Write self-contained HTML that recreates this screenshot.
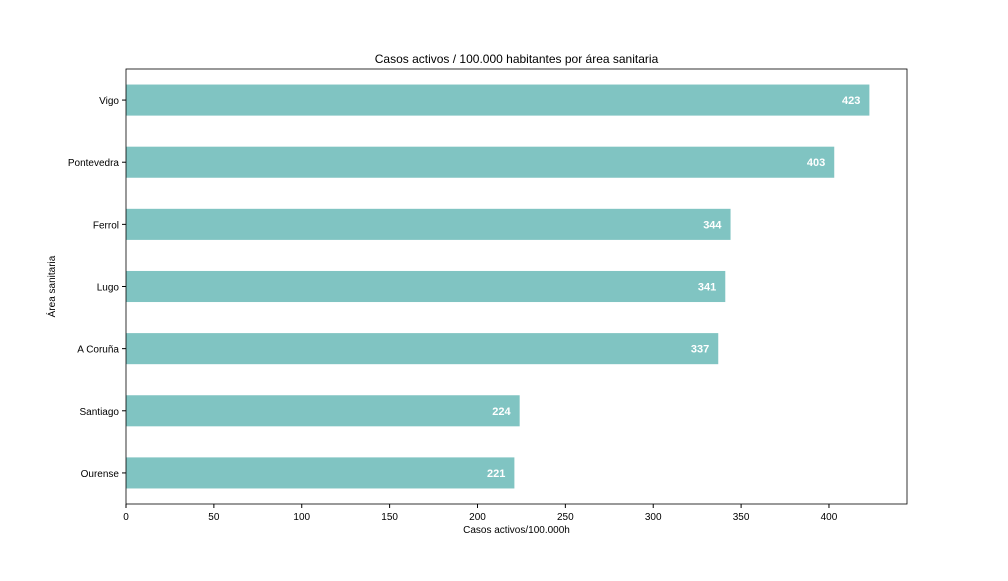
<!DOCTYPE html>
<html><head><meta charset="utf-8"><style>
body{margin:0;background:#fff;}
svg text{font-family:"Liberation Sans","DejaVu Sans",sans-serif;}
</style></head><body>
<svg id="chart" width="1008" height="576"></svg>
<script>
const categories=["Vigo","Pontevedra","Ferrol","Lugo","A Coruña","Santiago","Ourense"];
const values=[423,403,344,341,337,224,221];
const xTicks=[0,50,100,150,200,250,300,350,400];
const NS="http://www.w3.org/2000/svg";
const svg=document.getElementById('chart');
const L=126,R=907,T=69,B=504,xMax=444.4;
const x=v=>L+(v/xMax)*(R-L);
const band=(B-T)/categories.length;
const y=i=>T+band*(i+0.5);
function mk(tag,attrs,txt){const e=document.createElementNS(NS,tag);for(const k in attrs)e.setAttribute(k,attrs[k]);if(txt!==undefined)e.textContent=txt;svg.appendChild(e);return e;}
categories.forEach((c,i)=>{
  const r=mk('rect',{x:L,y:y(i)-band*0.25,width:x(values[i])-L,height:band*0.5,fill:'#80c4c2'});
  
  
  const v=mk('text',{x:x(values[i])-9,y:y(i)+4,'text-anchor':'end','font-size':11,'font-weight':'bold',fill:'#fff'},values[i]);
  
  
  mk('line',{x1:L-4,x2:L,y1:y(i),y2:y(i),stroke:'#000'});
  const t=mk('text',{x:L-7,y:y(i)+4,'text-anchor':'end','font-size':10},c);
  
  
});
xTicks.forEach(v=>{
  mk('line',{x1:x(v),x2:x(v),y1:B,y2:B+4,stroke:'#000'});
  const t=mk('text',{x:x(v),y:B+16,'text-anchor':'middle','font-size':10},v);
  
  
});
const f=mk('rect',{x:L,y:T,width:R-L,height:B-T,fill:'none',stroke:'#000','stroke-width':0.8});


const ti=mk('text',{x:(L+R)/2,y:63,'text-anchor':'middle','font-size':12},'Casos activos / 100.000 habitantes por área sanitaria');


const xt=mk('text',{x:(L+R)/2,y:533,'text-anchor':'middle','font-size':10},'Casos activos/100.000h');


const yt=mk('text',{x:55,y:(T+B)/2,'text-anchor':'middle','font-size':10,transform:'rotate(-90 55 '+((T+B)/2)+')'},'Área sanitaria');


</script>
</body></html>
